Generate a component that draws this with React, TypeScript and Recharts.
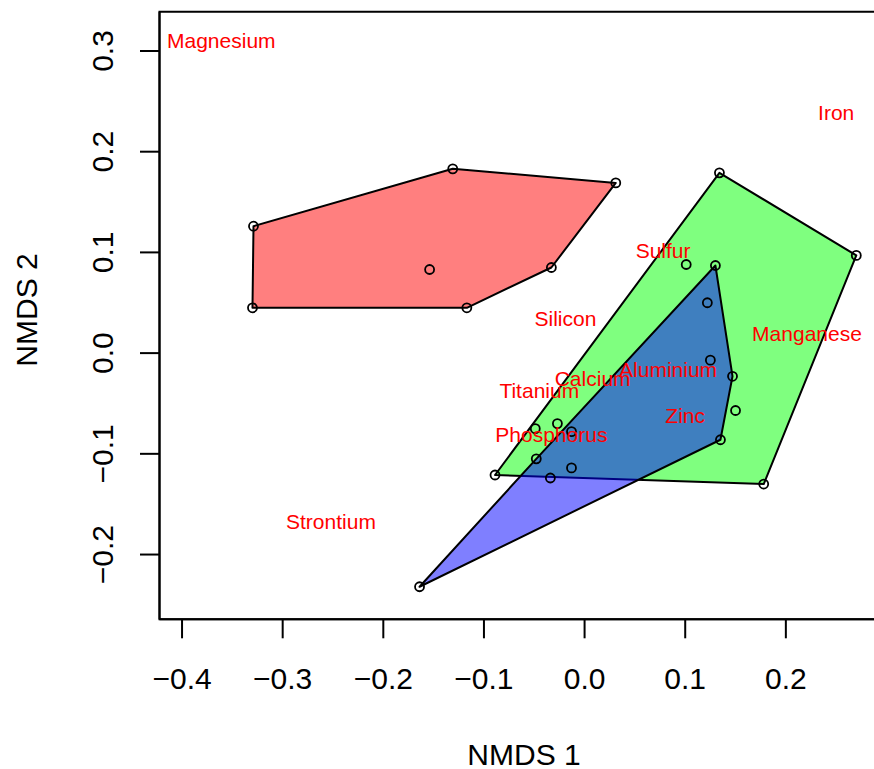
import { ReferenceArea, Scatter, ScatterChart, XAxis, YAxis } from 'recharts'

// NMDS scores
const redX = [-0.329, -0.131, 0.031, -0.033, -0.117, -0.33, -0.154]
const redY = [0.126, 0.183, 0.169, 0.085, 0.045, 0.045, 0.083]
const redHull = [0, 1, 2, 3, 4, 5]

const greenX = [0.134, 0.27, 0.178, -0.089, 0.101, 0.15, -0.049, -0.027]
const greenY = [0.179, 0.097, -0.13, -0.121, 0.088, -0.057, -0.075, -0.07]
const greenHull = [0, 1, 2, 3]

const blueX = [0.13, 0.147, 0.135, -0.164, -0.048, 0.122, 0.125, -0.013, -0.013, -0.034]
const blueY = [0.087, -0.023, -0.086, -0.232, -0.105, 0.05, -0.007, -0.078, -0.114, -0.124]
const blueHull = [0, 1, 2, 3, 4]

const elements = ['Magnesium', 'Iron', 'Sulfur', 'Silicon', 'Manganese', 'Aluminium', 'Calcium', 'Titanium', 'Zinc', 'Phosphorus', 'Strontium']
const elementX = [-0.361, 0.25, 0.078, -0.019, 0.221, 0.083, 0.008, -0.045, 0.1, -0.033, -0.252]
const elementY = [0.31, 0.239, 0.102, 0.034, 0.019, -0.016, -0.025, -0.037, -0.062, -0.081, -0.167]

const xTicks = [-0.4, -0.3, -0.2, -0.1, 0, 0.1, 0.2]
const yTicks = [-0.2, -0.1, 0, 0.1, 0.2, 0.3]
const xDomain = [-0.4224, 0.302]
const yDomain = [-0.2643, 0.339]

const font = '"Liberation Sans", Arial, sans-serif'

const toPoints = (xs: number[], ys: number[]) => xs.map((x, i) => ({ x, y: ys[i] }))
const pick = (pts: { x: number; y: number }[], idx: number[]) => idx.map((i) => pts[i])

const red = toPoints(redX, redY)
const green = toPoints(greenX, greenY)
const blue = toPoints(blueX, blueY)
const allPoints = [...red, ...green, ...blue]
const labels = elements.map((name, i) => ({ name, x: elementX[i], y: elementY[i] }))

const fmt = (v: number) => v.toFixed(1).replace('-', '\u2212')

const hullLine = (fill: string) => (props: any) => (
  <polygon
    points={(props.points || []).map((p: any) => `${p.x},${p.y}`).join(' ')}
    fill={fill}
    fillOpacity={0.5}
    stroke="#000"
    strokeWidth={2}
    strokeLinejoin="round"
  />
)

const noShape = () => <g />

const XTick = (props: any) => (
  <text x={props.x} y={props.y} textAnchor="middle" fontSize={30} fontFamily={font} fill="#000">
    {fmt(props.payload.value)}
  </text>
)

const YTick = (props: any) => (
  <text
    x={props.x}
    y={props.y}
    transform={`rotate(-90, ${props.x}, ${props.y})`}
    textAnchor="middle"
    fontSize={30}
    fontFamily={font}
    fill="#000"
  >
    {fmt(props.payload.value)}
  </text>
)

export default function App() {
  return (
    <div style={{ position: 'fixed', left: 0, top: 0, width: 874, height: 769, overflow: 'hidden', background: '#fff' }}>
      <ScatterChart width={900} height={769} margin={{ top: 11.7, right: 11.5, bottom: 89.7, left: 99.5 }}>
        <XAxis
          type="number"
          dataKey="x"
          domain={xDomain}
          ticks={xTicks}
          allowDataOverflow
          height={60}
          tickSize={19}
          tickMargin={50.7}
          tick={XTick}
          axisLine={{ stroke: '#000', strokeWidth: 2 }}
          tickLine={{ stroke: '#000', strokeWidth: 2 }}
          label={{
            value: 'NMDS 1',
            content: (p: any) => (
              <text x={p.viewBox.x + p.viewBox.width / 2} y={p.viewBox.y + 145.7} textAnchor="middle" fontSize={30} fontFamily={font} fill="#000">
                NMDS 1
              </text>
            ),
          }}
        />
        <YAxis
          type="number"
          dataKey="y"
          domain={yDomain}
          ticks={yTicks}
          allowDataOverflow
          width={60}
          tickSize={19.5}
          tickMargin={27}
          tick={YTick}
          axisLine={{ stroke: '#000', strokeWidth: 2 }}
          tickLine={{ stroke: '#000', strokeWidth: 2 }}
          label={{
            value: 'NMDS 2',
            content: (p: any) => {
              const tx = p.viewBox.x - 62.8
              const ty = p.viewBox.y + p.viewBox.height / 2 - 5.5
              return (
                <text x={tx} y={ty} transform={`rotate(-90, ${tx}, ${ty})`} textAnchor="middle" fontSize={30} fontFamily={font} fill="#000">
                  NMDS 2
                </text>
              )
            },
          }}
        />
        <ReferenceArea x1={xDomain[0]} x2={xDomain[1]} y1={yDomain[0]} y2={yDomain[1]} fill="none" stroke="#000" strokeWidth={2} ifOverflow="visible" />
        <Scatter data={pick(red, redHull)} line={hullLine('#ff0000')} shape={noShape} isAnimationActive={false} />
        <Scatter data={pick(green, greenHull)} line={hullLine('#00ff00')} shape={noShape} isAnimationActive={false} />
        <Scatter data={pick(blue, blueHull)} line={hullLine('#0000ff')} shape={noShape} isAnimationActive={false} />
        <Scatter
          data={allPoints}
          isAnimationActive={false}
          shape={(p: any) => <circle cx={p.cx} cy={p.cy} r={4.5} fill="none" stroke="#000" strokeWidth={1.8} />}
        />
        <Scatter
          data={labels}
          isAnimationActive={false}
          shape={(p: any) => (
            <text x={p.cx} y={p.cy + 7.5} textAnchor="middle" fontSize={21} fontFamily={font} fill="#ff0000">
              {p.payload.name}
            </text>
          )}
        />
      </ScatterChart>
    </div>
  )
}
